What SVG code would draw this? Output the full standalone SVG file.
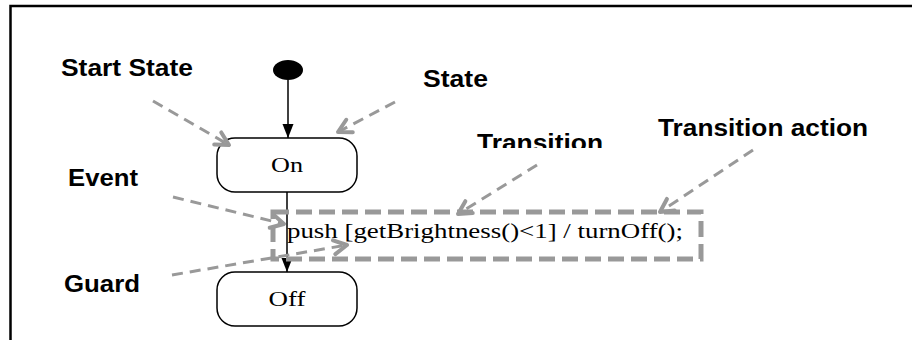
<svg xmlns="http://www.w3.org/2000/svg" width="912" height="340" viewBox="0 0 912 340">
  <style>
    .label { font-family: "Liberation Sans", Arial, sans-serif; font-weight: bold; font-size: 23px; fill: #000; }
    .state-text { font-family: "Liberation Serif", "Times New Roman", serif; font-size: 22px; fill: #000; }
    .state-box { fill: #fff; stroke: #000; stroke-width: 1.5; }
    .flow { stroke: #000; stroke-width: 1.5; fill: none; marker-end: url(#solidHead); }
    .callout { stroke: #999; stroke-width: 3; stroke-dasharray: 11 7; fill: none; marker-end: url(#openHead); }
    .frame { stroke: #000; stroke-width: 2.5; fill: none; }
  </style>
  <defs>
    <marker id="solidHead" markerUnits="userSpaceOnUse" markerWidth="16" markerHeight="12" refX="14" refY="5.5" orient="auto" overflow="visible">
      <path d="M0,0 L14,5.5 L0,11 Z" fill="#000"/>
    </marker>
    <marker id="openHead" markerUnits="userSpaceOnUse" markerWidth="16" markerHeight="16" refX="0" refY="0" orient="auto" overflow="visible">
      <path d="M-13,-7 L0,0 L-13,7" fill="none" stroke="#999" stroke-width="4" stroke-linecap="round" stroke-linejoin="round"/>
    </marker>
    <clipPath id="transitionClip">
      <rect x="0" y="0" width="912" height="148"/>
    </clipPath>
  </defs>

  <rect width="912" height="340" fill="#fff"/>

  <!-- frame (top and left edges) -->
  <path class="frame" d="M10.5,340 L10.5,6 L912,6"/>

  <!-- states -->
  <g id="start">
    <ellipse cx="288" cy="70" rx="15" ry="10" fill="#000"/>
  </g>
  <g id="on">
    <rect class="state-box" x="217" y="138" width="140" height="54" rx="18" ry="18"/>
    <text class="state-text" x="287" y="172" text-anchor="middle" textLength="32" lengthAdjust="spacingAndGlyphs">On</text>
  </g>
  <g id="off">
    <rect class="state-box" x="217" y="272" width="140" height="54" rx="18" ry="18"/>
    <text class="state-text" x="287" y="306" text-anchor="middle" textLength="37" lengthAdjust="spacingAndGlyphs">Off</text>
  </g>

  <!-- transitions -->
  <g id="connectors">
    <line class="flow" x1="288" y1="80" x2="288" y2="138"/>
    <line class="flow" x1="287" y1="192" x2="287" y2="272"/>
  </g>

  <!-- transition label with highlight box -->
  <g id="transition-label">
    <rect x="273" y="212" width="428" height="47" fill="none" stroke="#999" stroke-width="5" stroke-dasharray="16 7"/>
    <text class="state-text" x="287" y="238" textLength="396" lengthAdjust="spacingAndGlyphs">push [getBrightness()&lt;1] / turnOff();</text>
  </g>

  <!-- annotations -->
  <g id="annotations">
    <text class="label" x="61" y="76" textLength="132" lengthAdjust="spacingAndGlyphs">Start State</text>
    <text class="label" x="423" y="87" textLength="65" lengthAdjust="spacingAndGlyphs">State</text>
    <text class="label" x="477" y="151" textLength="126" lengthAdjust="spacingAndGlyphs" clip-path="url(#transitionClip)">Transition</text>
    <text class="label" x="658" y="136" textLength="210" lengthAdjust="spacingAndGlyphs">Transition action</text>
    <text class="label" x="68" y="186" textLength="70" lengthAdjust="spacingAndGlyphs">Event</text>
    <text class="label" x="64" y="292" textLength="76" lengthAdjust="spacingAndGlyphs">Guard</text>
  </g>

  <g id="callouts">
    <line class="callout" x1="153" y1="101" x2="229" y2="145"/>
    <line class="callout" x1="395" y1="102" x2="338" y2="132"/>
    <line class="callout" x1="537" y1="165" x2="458" y2="214"/>
    <line class="callout" x1="753" y1="150" x2="660" y2="212"/>
    <line class="callout" x1="173" y1="197" x2="284" y2="224"/>
    <line class="callout" x1="172" y1="275" x2="347" y2="245"/>
  </g>
</svg>
